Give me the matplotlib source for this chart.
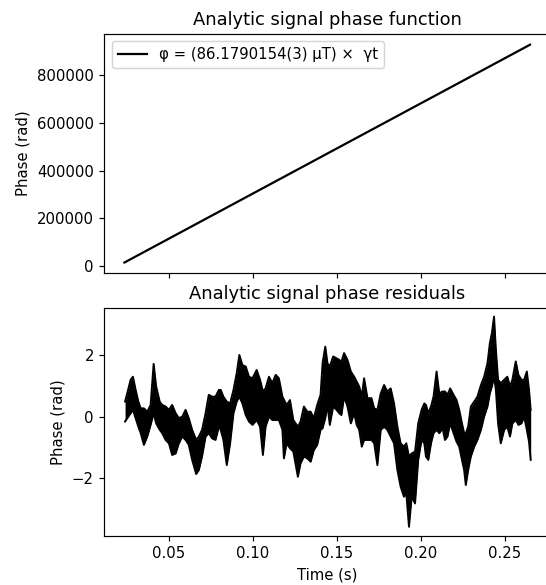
import matplotlib
matplotlib.use("Agg")
import matplotlib.pyplot as plt

# ---- Top panel: fitted phase function ----
t_fit = [0.0237, 0.2650]
phase_fit = [14000, 928000]
fit_label = "φ = (86.1790154(3) μT) ×  γt"

# ---- Bottom panel: residual envelope ----
t_env = [
    0.0241, 0.0254, 0.0274, 0.0288, 0.0304, 0.0320, 0.0334, 0.0353, 0.0373, 0.0393,
    0.0411, 0.0426, 0.0447, 0.0462, 0.0482, 0.0502, 0.0521, 0.0542, 0.0561, 0.0581,
    0.0601, 0.0620, 0.0640, 0.0664, 0.0680, 0.0699, 0.0720, 0.0739, 0.0759, 0.0779,
    0.0799, 0.0810, 0.0826, 0.0846, 0.0866, 0.0886, 0.0905, 0.0921, 0.0939, 0.0959,
    0.0978, 0.0999, 0.1024, 0.1044, 0.1061, 0.1077, 0.1097, 0.1117, 0.1137, 0.1156,
    0.1177, 0.1186, 0.1202, 0.1222, 0.1242, 0.1269, 0.1285, 0.1305, 0.1325, 0.1345,
    0.1364, 0.1384, 0.1404, 0.1416, 0.1432, 0.1445, 0.1459, 0.1479, 0.1499, 0.1515,
    0.1528, 0.1544, 0.1564, 0.1584, 0.1604, 0.1619, 0.1634, 0.1649, 0.1663, 0.1683,
    0.1707, 0.1723, 0.1742, 0.1762, 0.1782, 0.1801, 0.1821, 0.1841, 0.1861, 0.1880,
    0.1900, 0.1914, 0.1930, 0.1946, 0.1966, 0.1985, 0.2005, 0.2021, 0.2031, 0.2045,
    0.2061, 0.2076, 0.2094, 0.2110, 0.2130, 0.2144, 0.2159, 0.2175, 0.2195, 0.2213,
    0.2229, 0.2245, 0.2258, 0.2268, 0.2282, 0.2298, 0.2318, 0.2337, 0.2358, 0.2377,
    0.2397, 0.2411, 0.2423, 0.2436, 0.2447, 0.2460, 0.2476, 0.2496, 0.2515, 0.2531,
    0.2545, 0.2565, 0.2581, 0.2599, 0.2615, 0.2631, 0.2644, 0.2654,
]
upper = [
    0.49, 0.76, 1.20, 1.30, 0.87, 0.49, 0.27, 0.27, 0.16, 0.38,
    1.72, 0.98, 0.49, 0.38, 0.33, 0.22, 0.38, 0.11, -0.05, 0.00,
    0.22, -0.05, -0.43, -0.76, -0.65, -0.43, 0.11, 0.71, 0.65, 0.65,
    0.87, 0.87, 0.65, 0.49, 0.43, 0.87, 1.41, 2.01, 1.68, 1.63,
    1.30, 1.25, 1.52, 1.20, 0.82, 0.92, 1.30, 1.09, 1.36, 1.25,
    0.65, 0.55, 0.38, 0.54, -0.11, -0.33, -0.16, 0.33, 0.16, 0.16,
    -0.05, 0.38, 0.71, 1.74, 2.28, 1.74, 1.63, 1.96, 1.90, 1.85,
    1.79, 2.07, 1.85, 1.47, 1.30, 1.14, 0.98, 0.65, 1.25, 0.60,
    0.60, 0.27, 0.22, 0.76, 1.03, 0.82, 0.92, 0.43, -0.33, -0.87,
    -0.98, -0.87, -1.30, -1.20, -1.14, -0.22, 0.22, 0.43, 0.38, 0.11,
    0.33, 0.65, 1.47, 0.76, 0.82, 0.82, 0.71, 0.92, 0.71, 0.54,
    0.22, -0.22, -0.54, -0.54, -0.33, 0.33, 0.49, 0.65, 1.03, 1.30,
    1.74, 2.39, 2.72, 3.26, 2.17, 1.20, 1.09, 1.20, 1.30, 0.98,
    1.20, 1.80, 1.36, 1.20, 1.20, 1.47, 0.87, 0.22,
]
lower = [
    -0.16, -0.05, 0.11, 0.22, -0.05, -0.33, -0.54, -0.92, -0.65, -0.27,
    0.11, -0.22, -0.43, -0.54, -0.76, -0.87, -1.25, -1.20, -0.87, -0.65,
    -0.76, -0.92, -1.41, -1.87, -1.74, -1.30, -0.65, -0.54, -0.71, -0.76,
    -0.33, -0.43, -0.76, -1.58, -0.87, 0.11, 0.49, 0.65, 0.43, 0.05,
    -0.16, -0.27, -0.11, -0.33, -1.25, -0.33, 0.00, -0.11, -0.11, -0.11,
    -0.43, -1.36, -0.87, -1.03, -1.14, -1.96, -1.52, -1.30, -1.36, -1.47,
    -1.09, -0.92, -0.43, -0.38, -0.05, 0.38, -0.27, 0.33, 0.22, 0.11,
    0.05, 0.65, 0.33, -0.22, 0.11, -0.27, -0.43, -0.98, -0.76, -0.76,
    -0.76, -0.87, -1.58, -0.43, -0.33, -0.43, -0.65, -0.87, -1.74, -2.28,
    -2.61, -2.50, -3.59, -2.61, -2.83, -1.41, -0.76, -0.87, -1.30, -1.41,
    -0.87, -0.54, -0.43, -0.54, -0.38, -0.76, -0.65, -0.22, -0.54, -0.82,
    -0.98, -1.41, -1.74, -2.23, -1.74, -1.30, -0.98, -0.76, -0.43, 0.00,
    0.33, 0.76, 0.98, 1.30, 0.87, -0.22, -0.87, -0.43, -0.33, -0.65,
    -0.22, -0.11, -0.27, -0.22, 0.00, -0.43, -0.82, -1.41,
]
resid_yticks = [-2, 0, 2]

plt.rcParams["font.family"] = "DejaVu Sans"
plt.rcParams["font.size"] = 10

DPI = 107
fig = plt.figure(figsize=(546 / DPI, 585 / DPI), dpi=DPI)
ax1 = fig.add_axes([0.191, 0.5326, 0.817, 0.4096])
ax2 = fig.add_axes([0.191, 0.0843, 0.817, 0.3887], sharex=ax1)

ax1.plot(t_fit, phase_fit, color="black", lw=1.5, label=fit_label)
ax1.set_title("Analytic signal phase function", fontsize=12)
ax1.set_ylabel("Phase (rad)")
ax1.legend(loc="upper left")
ax1.tick_params(labelbottom=False)

ax2.fill_between(t_env, lower, upper, color="black", lw=0)
ax2.plot(t_env, upper, color="black", lw=1.3)
ax2.plot(t_env, lower, color="black", lw=1.3)
ax2.set_title("Analytic signal phase residuals", fontsize=12)
ax2.set_ylabel("Phase (rad)")
ax2.set_xlabel("Time (s)")
ax2.set_ylim(-3.88, 3.53)
ax2.set_yticks(resid_yticks)
ax2.set_xlim(0.01174, 0.2771)

for ax in (ax1, ax2):
    ax.spines["right"].set_visible(False)

fig.savefig("out.png", dpi=DPI)
